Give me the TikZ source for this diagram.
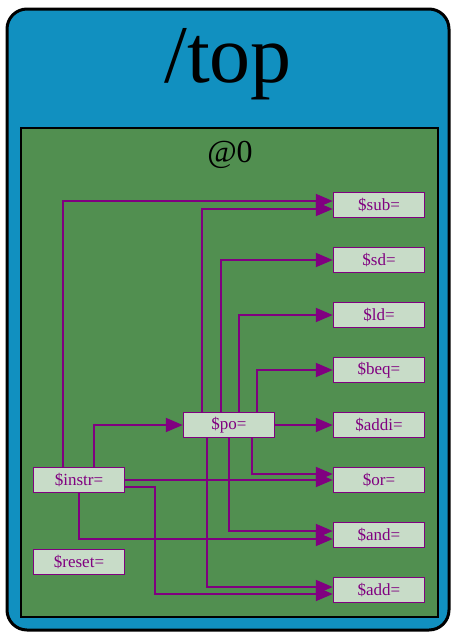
\documentclass[tikz,border=0pt]{standalone}
\usepackage{fontspec}
\setmainfont{Liberation Serif}
\usetikzlibrary{arrows.meta}
\definecolor{topblue}{HTML}{1190C0}
\definecolor{clustergreen}{HTML}{518F50}
\definecolor{sigfill}{HTML}{C8DCC8}
\definecolor{wirepurple}{HTML}{800080}

\begin{document}
\begin{tikzpicture}[
  x=1pt, y=1pt,
  >={Triangle[length=17pt,width=14pt]},
  flow/.style={->, draw=wirepurple, line width=2pt},
  sig/.style={draw=wirepurple, line width=1.5pt, fill=sigfill, text=wirepurple, minimum width=91pt, minimum height=25pt, inner sep=0pt, font=\fontsize{17}{19}\selectfont}
]
  \useasboundingbox (0,0) rectangle (456,-632);
  \draw[fill=topblue, line width=3pt, rounded corners=20pt] (7,-9) rectangle (449,-630);
  \node[font=\fontsize{82}{90}\selectfont, anchor=base, inner sep=0pt] (toplabel) at (228,-82) {/top};
  \draw[fill=clustergreen, line width=2pt] (21,-128) rectangle (438,-617);
  \node[font=\fontsize{32}{36}\selectfont, anchor=base, inner sep=0pt] (clusterlabel) at (230,-162) {@0};

  \node[sig] (sub) at (379,-205) {\$sub=};
  \node[sig] (sd) at (379,-260) {\$sd=};
  \node[sig] (ld) at (379,-315) {\$ld=};
  \node[sig] (beq) at (379,-370) {\$beq=};
  \node[sig] (addi) at (379,-425) {\$addi=};
  \node[sig] (or) at (379,-480) {\$or=};
  \node[sig] (and) at (379,-535) {\$and=};
  \node[sig] (add) at (379,-590) {\$add=};
  \node[sig] (po) at (229,-425) {\$po=};
  \node[sig] (instr) at (79,-480) {\$instr=};
  \node[sig] (reset) at (79,-562) {\$reset=};

  \draw[flow] ([xshift=-16pt]instr.north) |- ([yshift=4pt]sub.west);
  \draw[flow] ([xshift=-27pt]po.north) |- ([yshift=-4pt]sub.west);
  \draw[flow] ([xshift=-8pt]po.north) |- (sd.west);
  \draw[flow] ([xshift=10pt]po.north) |- (ld.west);
  \draw[flow] ([xshift=28pt]po.north) |- (beq.west);
  \draw[flow] (po.east) -- (addi.west);
  \draw[flow] ([xshift=15pt]instr.north) |- (po.west);
  \draw[flow] ([xshift=23pt]po.south) |- ([yshift=6pt]or.west);
  \draw[flow] (instr.east) -- (or.west);
  \draw[flow] (po.south) |- ([yshift=4pt]and.west);
  \draw[flow] (instr.south) |- ([yshift=-4pt]and.west);
  \draw[flow] ([xshift=-22pt]po.south) |- ([yshift=3pt]add.west);
  \draw[flow] ([yshift=-7pt]instr.east) -- ++(30,0) |- ([yshift=-4pt]add.west);
\end{tikzpicture}
\end{document}
